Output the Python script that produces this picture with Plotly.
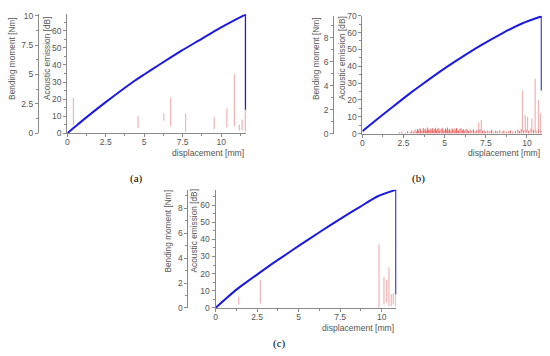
import plotly.graph_objects as go

W, H = 550, 356

# ---------------- data ----------------
# (a)
bm_a_x = [0, 0.5, 1.0, 2.5, 4.2, 5.0, 6.0, 7.4, 8.5, 10.0, 11.0, 11.6, 11.6]
bm_a_y = [0, 0.55, 1.1, 2.65, 4.3, 5.0, 5.85, 7.0, 7.85, 9.0, 9.7, 10.1, 2.0]
ae_a_x = [0.4, 4.6, 6.27, 6.72, 7.69, 9.55, 10.37, 10.86, 11.18, 11.36, 11.57]
ae_a_lo = [5, 3, 7.3, 4, 0.7, 2.5, 3.4, 4, 1.7, 1.7, 1]
ae_a_hi = [20.7, 10, 11.6, 21, 11.6, 9.7, 14.5, 34.5, 5, 8, 13.7]

# (b)
bm_b_x = [0, 0.8, 1.7, 2.93, 3.5, 5.0, 6.0, 7.17, 8.5, 9.7, 10.9, 10.9]
bm_b_y = [0.2, 1.1, 2.08, 3.4, 3.98, 5.45, 6.35, 7.35, 8.38, 9.2, 9.8, 3.6]
ae_b_x = [7.07, 7.23, 9.73, 9.9, 10.04, 10.3, 10.5, 10.7, 10.82]
ae_b_lo = [0.5, 0.5, 1, 1, 1, 1, 1, 1, 1]
ae_b_hi = [6.6, 8, 25.4, 11, 10, 9, 32.6, 20, 12]
noise_b_x = [2.25, 2.4, 2.6, 2.75, 2.9, 3.0, 3.1, 3.2, 3.3, 3.35, 3.42, 3.5, 3.55, 3.62,
             3.7, 3.75, 3.82, 3.88, 3.95, 4.0, 4.05, 4.12, 4.18, 4.25, 4.3, 4.37, 4.45,
             4.5, 4.58, 4.65, 4.7, 4.78, 4.85, 4.9, 4.97, 5.05, 5.1, 5.17, 5.25, 5.3,
             5.38, 5.45, 5.5, 5.58, 5.65, 5.72, 5.8, 5.85, 5.93, 6.0, 6.08, 6.15, 6.22,
             6.3, 6.38, 6.45, 6.55, 6.65, 6.75, 6.85, 6.95, 7.05, 7.15, 7.3, 7.4, 7.5,
             7.62, 7.75, 7.85, 7.95, 8.1, 8.2, 8.35, 8.5, 8.6, 8.75, 8.9, 9.0, 9.15,
             9.3, 9.45, 9.55, 9.65, 9.8, 9.95, 10.1, 10.25, 10.4, 10.55, 10.7, 10.85]
noise_b_y = [0.8, 1.2, 0.6, 1.5, 0.9, 1.8, 1.1, 2.2, 1.4, 2.8, 1.9, 3.1, 2.4, 1.6,
             3.4, 2.1, 2.9, 1.7, 3.6, 2.5, 1.9, 3.0, 2.2, 3.3, 1.8, 2.7, 3.5,
             2.0, 2.9, 3.2, 1.6, 2.6, 3.4, 2.2, 1.8, 3.0, 2.4, 3.6, 2.0, 2.8,
             1.7, 3.1, 2.3, 2.9, 1.9, 3.3, 2.5, 1.6, 2.8, 3.2, 2.0, 2.6, 1.8,
             2.9, 2.2, 1.5, 2.4, 1.9, 2.6, 1.4, 2.1, 1.8, 2.5, 1.6, 2.0, 1.3,
             1.9, 1.5, 2.2, 1.2, 1.7, 1.4, 2.0, 1.3, 1.8, 1.1, 1.6, 1.9, 1.2,
             1.7, 2.3, 1.5, 2.6, 1.8, 2.4, 1.6, 2.9, 2.1, 1.7, 2.5, 1.9]

# (c)
bm_c_x = [0, 0.6, 1.34, 2.5, 3.34, 3.94, 5.14, 6.3, 7.54, 8.7, 9.74, 10.88, 10.88]
bm_c_y = [0, 0.72, 1.55, 2.68, 3.48, 4.02, 5.1, 6.12, 7.18, 8.12, 8.95, 9.5, 1.1]
ae_c_x = [1.4, 2.7, 9.84, 10.14, 10.3, 10.44, 10.58, 10.7, 10.85]
ae_c_lo = [2, 2.8, 0, 2, 3, 1, 1, 2, 1]
ae_c_hi = [6.6, 16.3, 37, 18, 16, 23.7, 8, 8.6, 8]

# ---------------- helpers ----------------
def spikes(xs, lo, hi):
    X, Y = [], []
    for x, a, b in zip(xs, lo, hi):
        X += [x, x, None]
        Y += [a, b, None]
    return X, Y

def px_x(p):
    return p / W

def px_y(p):
    return 1 - p / H

FONT = "Liberation Sans, Arial, sans-serif"
TICKC = "#555555"
LINEC = "#8a8a8a"
FS = 8.5

fig = go.Figure()

panels = [
    dict(x="x", ya="y", yb="y2", x0=65.5, x1=245, yt=9.5, yb_=132, xmax=11.62, aemax=69.7, bmmax=10.12,
         bmpos=36, bmdt=2.5, bm=(bm_a_x, bm_a_y), ae=(ae_a_x, ae_a_lo, ae_a_hi), noise=None,
         t1=10.7, t2=45, ttop=10, cap="(a)", capx=135, capy=178, xtl_y=152.5),
    dict(x="x2", ya="y3", yb="y4", x0=361.7, x1=541.7, yt=11, yb_=132.3, xmax=10.9, aemax=70, bmmax=9.85,
         bmpos=332.3, bmdt=2, bm=(bm_b_x, bm_b_y), ae=(ae_b_x, ae_b_lo, ae_b_hi), noise=(noise_b_x, noise_b_y),
         t1=315, t2=341.7, ttop=10, cap="(b)", capx=418, capy=178, xtl_y=152.5),
    dict(x="x3", ya="y5", yb="y6", x0=214.3, x1=395.7, yt=190, yb_=311.7, xmax=10.88, aemax=69, bmmax=9.5,
         bmpos=186, bmdt=2, bm=(bm_c_x, bm_c_y), ae=(ae_c_x, ae_c_lo, ae_c_hi), noise=None,
         t1=167, t2=193, ttop=188, cap="(c)", capx=279, capy=348, xtl_y=332),
]

layout = dict(width=W, height=H, margin=dict(l=0, r=0, t=0, b=0),
              paper_bgcolor="white", plot_bgcolor="white", showlegend=False,
              font=dict(family=FONT, size=FS, color=TICKC))
annotations = []

for i, p in enumerate(panels):
    xs = "" if i == 0 else str(i + 1)
    ya_name = "yaxis" + ("" if i == 0 else str(2 * i + 1))
    yb_name = "yaxis" + str(2 * i + 2)
    xa_name = "xaxis" + xs
    common = dict(showgrid=False, zeroline=False, showline=True, linecolor=LINEC, linewidth=1,
                  ticks="outside", ticklen=3, tickcolor=LINEC, tickwidth=1,
                  tickfont=dict(family=FONT, size=FS, color=TICKC))
    layout[xa_name] = dict(domain=[px_x(p["x0"]), px_x(p["x1"])], range=[0, p["xmax"]],
                           anchor=p["ya"], dtick=2.5, tick0=0, ticklabelstandoff=-2,
                           minor=dict(dtick=1.25, ticklen=2, tickcolor=LINEC, ticks="outside"), **common)
    layout[ya_name] = dict(domain=[px_y(p["yb_"]), px_y(p["yt"])], range=[0, p["aemax"]],
                           anchor=p["x"], dtick=10, tick0=0,
                           minor=dict(dtick=5, ticklen=2, tickcolor=LINEC, ticks="outside"), **common)
    layout[yb_name] = dict(overlaying=p["ya"], anchor="free", position=px_x(p["bmpos"]), side="left",
                           range=[0, p["bmmax"]], dtick=p["bmdt"], tick0=0,
                           minor=dict(dtick=p["bmdt"] / 2, ticklen=2, tickcolor=LINEC, ticks="outside"),
                           **common)

    # AE spikes
    if p["noise"] is not None:
        nx, ny = p["noise"]
        X, Y = spikes(nx, [0] * len(nx), ny)
        fig.add_trace(go.Scatter(x=X, y=Y, xaxis=p["x"], yaxis=p["ya"], mode="lines",
                                 line=dict(color="rgba(228,60,60,0.75)", width=1), hoverinfo="skip"))
    X, Y = spikes(*p["ae"])
    fig.add_trace(go.Scatter(x=X, y=Y, xaxis=p["x"], yaxis=p["ya"], mode="lines",
                             line=dict(color="rgba(230,140,140,0.65)", width=1.2), hoverinfo="skip"))
    # bending moment: smooth loading curve + vertical failure drop
    bx, by = p["bm"]
    fig.add_trace(go.Scatter(x=bx[:-1], y=by[:-1], xaxis=p["x"], yaxis=p["yb"], mode="lines",
                             line=dict(color="#1a1ae0", width=2, shape="spline", smoothing=0.6),
                             hoverinfo="skip"))
    fig.add_trace(go.Scatter(x=bx[-2:], y=by[-2:], xaxis=p["x"], yaxis=p["yb"], mode="lines",
                             line=dict(color="#1a1ae0", width=2), hoverinfo="skip"))

    # axis titles
    annotations.append(dict(text="Bending moment [Nm]", x=px_x(p["t1"]), y=px_y(p["ttop"]),
                            xref="paper", yref="paper", xanchor="center", yanchor="top",
                            textangle=-90, showarrow=False,
                            font=dict(family=FONT, size=8.3, color=TICKC)))
    annotations.append(dict(text="Acoustic emission [dB]", x=px_x(p["t2"]), y=px_y(p["ttop"]),
                            xref="paper", yref="paper", xanchor="center", yanchor="top",
                            textangle=-90, showarrow=False,
                            font=dict(family=FONT, size=8.3, color=TICKC)))
    annotations.append(dict(text="displacement [mm]", x=px_x(p["x1"]), y=px_y(p["xtl_y"]),
                            xref="paper", yref="paper", xanchor="right", yanchor="middle",
                            showarrow=False, font=dict(family=FONT, size=8.6, color=TICKC)))
    annotations.append(dict(text=p["cap"], x=px_x(p["capx"]), y=px_y(p["capy"]),
                            xref="paper", yref="paper", xanchor="center", yanchor="middle",
                            showarrow=False,
                            font=dict(family="Liberation Serif, Times New Roman, serif", size=11, color="black")))

layout["annotations"] = annotations
fig.update_layout(**layout)
fig.write_html("out.html", config={"displayModeBar": False},
               post_script="document.body.style.margin='0';document.body.style.overflow='hidden';")
